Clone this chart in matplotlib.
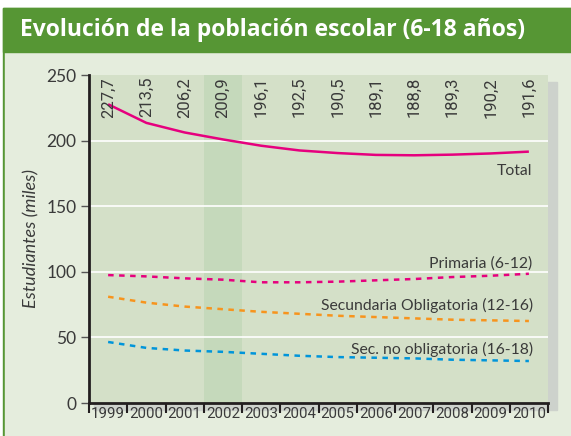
import numpy as np
import matplotlib
matplotlib.use("Agg")
import matplotlib.pyplot as plt
from matplotlib.patches import Rectangle

# data (miles de estudiantes)
years = [1999, 2000, 2001, 2002, 2003, 2004, 2005, 2006, 2007, 2008, 2009, 2010]
total = [227.7, 213.5, 206.2, 200.9, 196.1, 192.5, 190.5, 189.1, 188.8, 189.3, 190.2, 191.6]
total_labels = ["227,7", "213,5", "206,2", "200,9", "196,1", "192,5",
                "190,5", "189,1", "188,8", "189,3", "190,2", "191,6"]
primaria = [97.5, 96.5, 95.0, 94.0, 92.0, 92.0, 92.5, 93.5, 94.5, 96.0, 97.0, 98.5]
sec_oblig = [81.0, 76.5, 73.5, 71.5, 69.5, 68.0, 66.5, 65.5, 64.5, 63.5, 63.0, 62.5]
sec_no_oblig = [46.5, 42.0, 40.0, 39.0, 37.5, 36.0, 35.0, 34.5, 34.0, 33.0, 32.5, 32.0]
highlight_year = 2002

MAGENTA = "#e6007e"
ORANGE = "#f7941d"
BLUE = "#0095da"
GREEN = "#569634"
BG = "#e5eddd"
PLOT_BG = "#d4e0c8"
TXT = "#3a3a3a"
NARROW = "Roboto"

W, H = 571, 436
fig = plt.figure(figsize=(W / 100, H / 100), dpi=100)
fig.patch.set_facecolor("white")

def px(x0, y0, x1, y1):
    # figure-fraction rect from pixel box (top-left origin)
    return (x0 / W, 1 - y1 / H), (x1 - x0) / W, (y1 - y0) / H

# background panel and title bar
for (x0, y0, x1, y1, c) in [(3, 8, W, H, GREEN), (5, 52, W, H, BG), (3, 8, W, 52, GREEN)]:
    xy, w, h = px(x0, y0, x1, y1)
    fig.patches.append(Rectangle(xy, w, h, transform=fig.transFigure, color=c, zorder=0))
fig.text(20 / W, 1 - 30 / H, "Evolución de la población escolar (6-18 años)",
         color="white", fontsize=16.5, fontweight="bold", family="Open Sans",
         va="center", ha="left")

# shadow behind the plot
xy, w, h = px(94, 82, 557, 410)
fig.patches.append(Rectangle(xy, w, h, transform=fig.transFigure, color="#cdd2cc", zorder=0.5))

ax = fig.add_axes([89 / W, 1 - 403 / H, (548 - 89) / W, (403 - 75) / H])
ax.set_zorder(2)
ax.set_facecolor(PLOT_BG)
ax.set_xlim(years[0] - 0.5, years[-1] + 0.5)
ax.set_ylim(0, 250)
ax.axvspan(highlight_year - 0.5, highlight_year + 0.5, color="#c5d9bb", zorder=0.5, lw=0)

for g in [50, 100, 150, 200]:
    ax.axhline(g, color="white", lw=1.2, zorder=1)

ax.plot(years, total, color=MAGENTA, lw=1.8, zorder=3, solid_capstyle="butt")
for s, c in [(primaria, MAGENTA), (sec_oblig, ORANGE), (sec_no_oblig, BLUE)]:
    ax.plot(years, s, color=c, lw=1.8, dashes=(2.2, 2.2), zorder=3)

for x, lab in zip(years, total_labels):
    ax.text(x, 248.5, lab, rotation=90, ha="center", va="top", fontsize=12,
            color=TXT, family=NARROW)

lab_kw = dict(ha="right", va="center", fontsize=11.3, color=TXT, family="Lato")
ax.text(years[-1] + 0.1, 177, "Total", **lab_kw)
ax.text(years[-1] + 0.1, 106, "Primaria (6-12)", **lab_kw)
ax.text(years[-1] + 0.1, 74, "Secundaria Obligatoria (12-16)", **lab_kw)
ax.text(years[-1] + 0.1, 40.5, "Sec. no obligatoria (16-18)", **lab_kw)

# axes styling
for sp in ["top", "right"]:
    ax.spines[sp].set_visible(False)
ax.spines["left"].set_linewidth(2)
ax.spines["bottom"].set_linewidth(2)
ax.spines["left"].set_color("#231f20")
ax.spines["bottom"].set_color("#231f20")

ax.set_yticks([0, 50, 100, 150, 200, 250])
ax.tick_params(axis="y", length=6, width=1, color="#555555", labelsize=12.5,
               labelcolor=TXT, pad=3)
for t in ax.get_yticklabels():
    t.set_family("Lato")

ax.set_xticks([y - 0.5 for y in years] + [years[-1] + 0.5])
ax.set_xticklabels([])
ax.tick_params(axis="x", which="major", length=7, width=1.5, color="#231f20")
ax.set_xticks(years, minor=True)
ax.set_xticklabels([str(y) for y in years], minor=True)
ax.tick_params(axis="x", which="minor", length=0, labelsize=10.8, labelcolor=TXT, pad=3)
for t in ax.get_xticklabels(minor=True):
    t.set_family(NARROW)

ax.set_ylabel("Estudiantes (miles)", fontsize=13, color=TXT, style="italic",
              family="Lato", labelpad=5)

fig.savefig("out.png", dpi=100, facecolor=fig.get_facecolor())
